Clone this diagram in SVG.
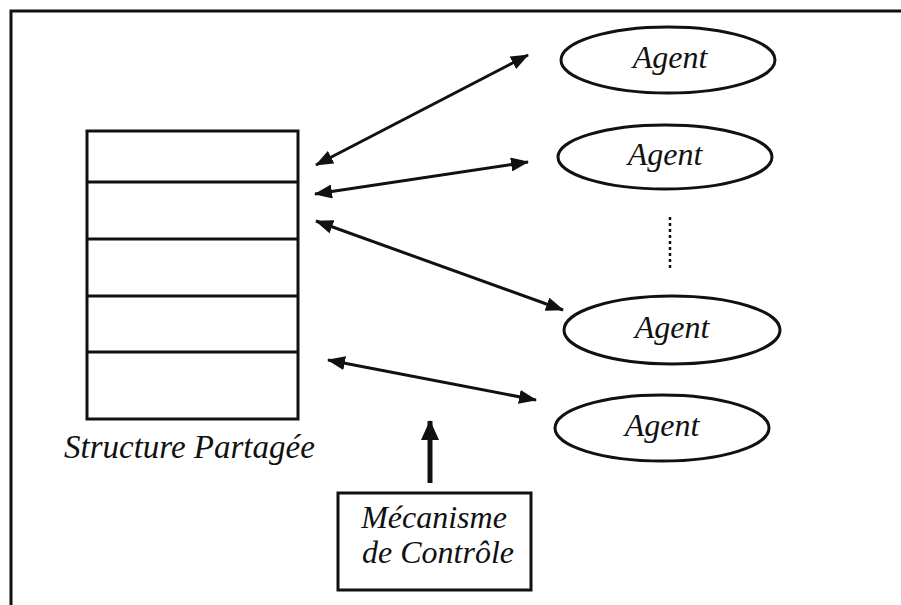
<svg xmlns="http://www.w3.org/2000/svg" width="901" height="605" viewBox="0 0 901 605">
<style>
.shape{fill:#fff;stroke:#111;stroke-width:3;}
.conn{stroke:#111;stroke-width:3;fill:none;}
</style>
<defs>
<marker id="ah" viewBox="0 0 18 14" refX="17" refY="7" markerWidth="18" markerHeight="14" markerUnits="userSpaceOnUse" orient="auto-start-reverse">
<path d="M0,0 L18,7 L0,14 Z" fill="#111"/>
</marker>
<marker id="ahBig" viewBox="0 0 20 18" refX="19" refY="9" markerWidth="20" markerHeight="18" markerUnits="userSpaceOnUse" orient="auto">
<path d="M0,0 L20,9 L0,18 Z" fill="#111"/>
</marker>
</defs>
<rect x="0" y="0" width="901" height="605" fill="#fff"/>
<rect id="frame" x="11" y="11" width="900" height="610" fill="none" stroke="#111" stroke-width="3"/>

<g id="structure">
<rect class="shape" x="87" y="131" width="211" height="288"/>
<line x1="87" y1="182" x2="298" y2="182" stroke="#111" stroke-width="3"/>
<line x1="87" y1="239" x2="298" y2="239" stroke="#111" stroke-width="3"/>
<line x1="87" y1="296" x2="298" y2="296" stroke="#111" stroke-width="3"/>
<line x1="87" y1="352" x2="298" y2="352" stroke="#111" stroke-width="3"/>
<text x="64" y="458" font-family="Liberation Serif" font-style="italic" font-size="33" fill="#111">Structure Partagée</text>
</g>

<g id="agent1">
<ellipse class="shape" cx="668" cy="60" rx="107" ry="33"/>
<text x="670" y="68" font-family="Liberation Serif" font-style="italic" font-size="32" fill="#111" text-anchor="middle">Agent</text>
</g>
<g id="agent2">
<ellipse class="shape" cx="665" cy="157" rx="107" ry="32"/>
<text x="665" y="165" font-family="Liberation Serif" font-style="italic" font-size="32" fill="#111" text-anchor="middle">Agent</text>
</g>
<g id="agent3">
<ellipse class="shape" cx="672" cy="330" rx="108" ry="34"/>
<text x="672" y="338" font-family="Liberation Serif" font-style="italic" font-size="32" fill="#111" text-anchor="middle">Agent</text>
</g>
<g id="agent4">
<ellipse class="shape" cx="662" cy="428" rx="107" ry="33"/>
<text x="662" y="436" font-family="Liberation Serif" font-style="italic" font-size="32" fill="#111" text-anchor="middle">Agent</text>
</g>

<g id="controle">
<rect class="shape" x="338" y="493" width="193" height="97"/>
<text x="434" y="528" font-family="Liberation Serif" font-style="italic" font-size="32" fill="#111" text-anchor="middle">Mécanisme</text>
<text x="438" y="563" font-family="Liberation Serif" font-style="italic" font-size="32" fill="#111" text-anchor="middle">de Contrôle</text>
</g>

<g id="connectors">
<line class="conn" x1="316" y1="165" x2="528" y2="55" marker-start="url(#ah)" marker-end="url(#ah)"/>
<line class="conn" x1="315" y1="194" x2="528" y2="162" marker-start="url(#ah)" marker-end="url(#ah)"/>
<line class="conn" x1="316" y1="221" x2="563" y2="310" marker-start="url(#ah)" marker-end="url(#ah)"/>
<line class="conn" x1="328" y1="360" x2="536" y2="400" marker-start="url(#ah)" marker-end="url(#ah)"/>
<line x1="430" y1="483" x2="430" y2="421" stroke="#111" stroke-width="5" marker-end="url(#ahBig)"/>
<line x1="670" y1="217" x2="670" y2="268" stroke="#111" stroke-width="2.5" stroke-dasharray="3,3"/>
</g>
</svg>
